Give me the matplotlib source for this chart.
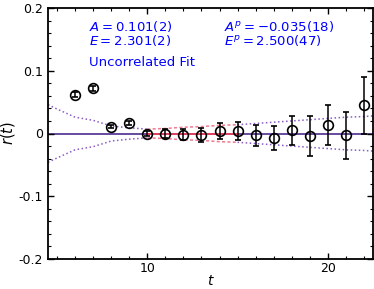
import numpy as np
import matplotlib
matplotlib.use("Agg")
import matplotlib.pyplot as plt
from matplotlib.ticker import MultipleLocator

plt.rcParams["mathtext.fontset"] = "dejavusans"

# data points r(t)
t = [6, 7, 8, 9, 10, 11, 12, 13, 14, 15, 16, 17, 18, 19, 20, 21, 22]
r = [0.062, 0.072, 0.011, 0.017, 0.000, 0.000, -0.002, -0.003, 0.004, 0.004,
     -0.003, -0.007, 0.005, -0.004, 0.013, -0.003, 0.045]
r_err = [0.004, 0.004, 0.003, 0.003, 0.004, 0.007, 0.009, 0.011, 0.013, 0.015,
         0.017, 0.019, 0.023, 0.032, 0.032, 0.037, 0.045]

# fit band (half widths) outside and inside fit window
band_t_left = [4.5, 5, 6, 7, 8, 9, 10]
band_w_left = [0.046, 0.039, 0.026, 0.021, 0.012, 0.009, 0.007]
fit_t = [10, 11, 12, 13, 14, 15]
fit_w = [0.007, 0.008, 0.010, 0.011, 0.013, 0.014]
band_t_right = [15, 16, 17, 18, 19, 20, 21, 22, 22.5]
band_w_right = [0.014, 0.016, 0.018, 0.020, 0.022, 0.024, 0.026, 0.027, 0.028]

purple = "#5b3c99"
purple_l = "#8a5cc8"
red = "#e8435a"
red_l = "#f07a90"

fig = plt.figure(figsize=(3.74, 2.89), dpi=100)
ax = fig.add_axes([48 / 374, 30 / 289, 325 / 374, 251 / 289])

ax.axhline(0, color=purple, lw=1.3, zorder=1)
ax.plot(fit_t, [0] * len(fit_t), color=red, lw=1.3, zorder=2)

for ts, ws, c, ls in [(band_t_left, band_w_left, purple_l, ":"),
                      (band_t_right, band_w_right, purple_l, ":"),
                      (fit_t, fit_w, red_l, (0, (2, 1.5)))]:
    ws = np.array(ws)
    ax.plot(ts, ws, color=c, ls=ls, lw=1.1, zorder=1)
    ax.plot(ts, -ws, color=c, ls=ls, lw=1.1, zorder=1)

ax.errorbar(t, r, yerr=r_err, fmt="o", mfc="none", mec="black", color="black",
            ms=7, mew=1.2, elinewidth=1.1, capsize=2.5, capthick=1.1, zorder=3)

ax.set_xlim(4.5, 22.5)
ax.set_ylim(-0.2, 0.2)
ax.xaxis.set_major_locator(MultipleLocator(10))
ax.xaxis.set_minor_locator(MultipleLocator(1))
ax.yaxis.set_minor_locator(MultipleLocator(0.02))
ax.set_yticks([-0.2, -0.1, 0, 0.1, 0.2])
ax.set_yticklabels(["-0.2", "-0.1", "0", "0.1", "0.2"])
ax.tick_params(which="both", direction="in", top=True, right=True, labelsize=9)
ax.tick_params(which="major", length=4, width=1)
ax.tick_params(which="minor", length=2.5, width=0.8)
ax.tick_params(axis="x", pad=2.5)
for s in ax.spines.values():
    s.set_linewidth(1.3)

ax.set_xlabel(r"$t$", fontsize=10, labelpad=-1)
ax.set_ylabel(r"$r(t)$", fontsize=10.5, labelpad=1)

ax.text(0.125, 0.955, r"$A=0.101(2)$", transform=ax.transAxes, color="blue",
        fontsize=9.5, va="top")
ax.text(0.125, 0.9, r"$E=2.301(2)$", transform=ax.transAxes, color="blue",
        fontsize=9.5, va="top")
ax.text(0.125, 0.81, "Uncorrelated Fit", transform=ax.transAxes, color="blue",
        fontsize=9.5, va="top")
ax.text(0.54, 0.955, r"$A^p=-0.035(18)$", transform=ax.transAxes, color="blue",
        fontsize=9.5, va="top")
ax.text(0.54, 0.9, r"$E^p=2.500(47)$", transform=ax.transAxes, color="blue",
        fontsize=9.5, va="top")

fig.savefig("out.png", dpi=100)
